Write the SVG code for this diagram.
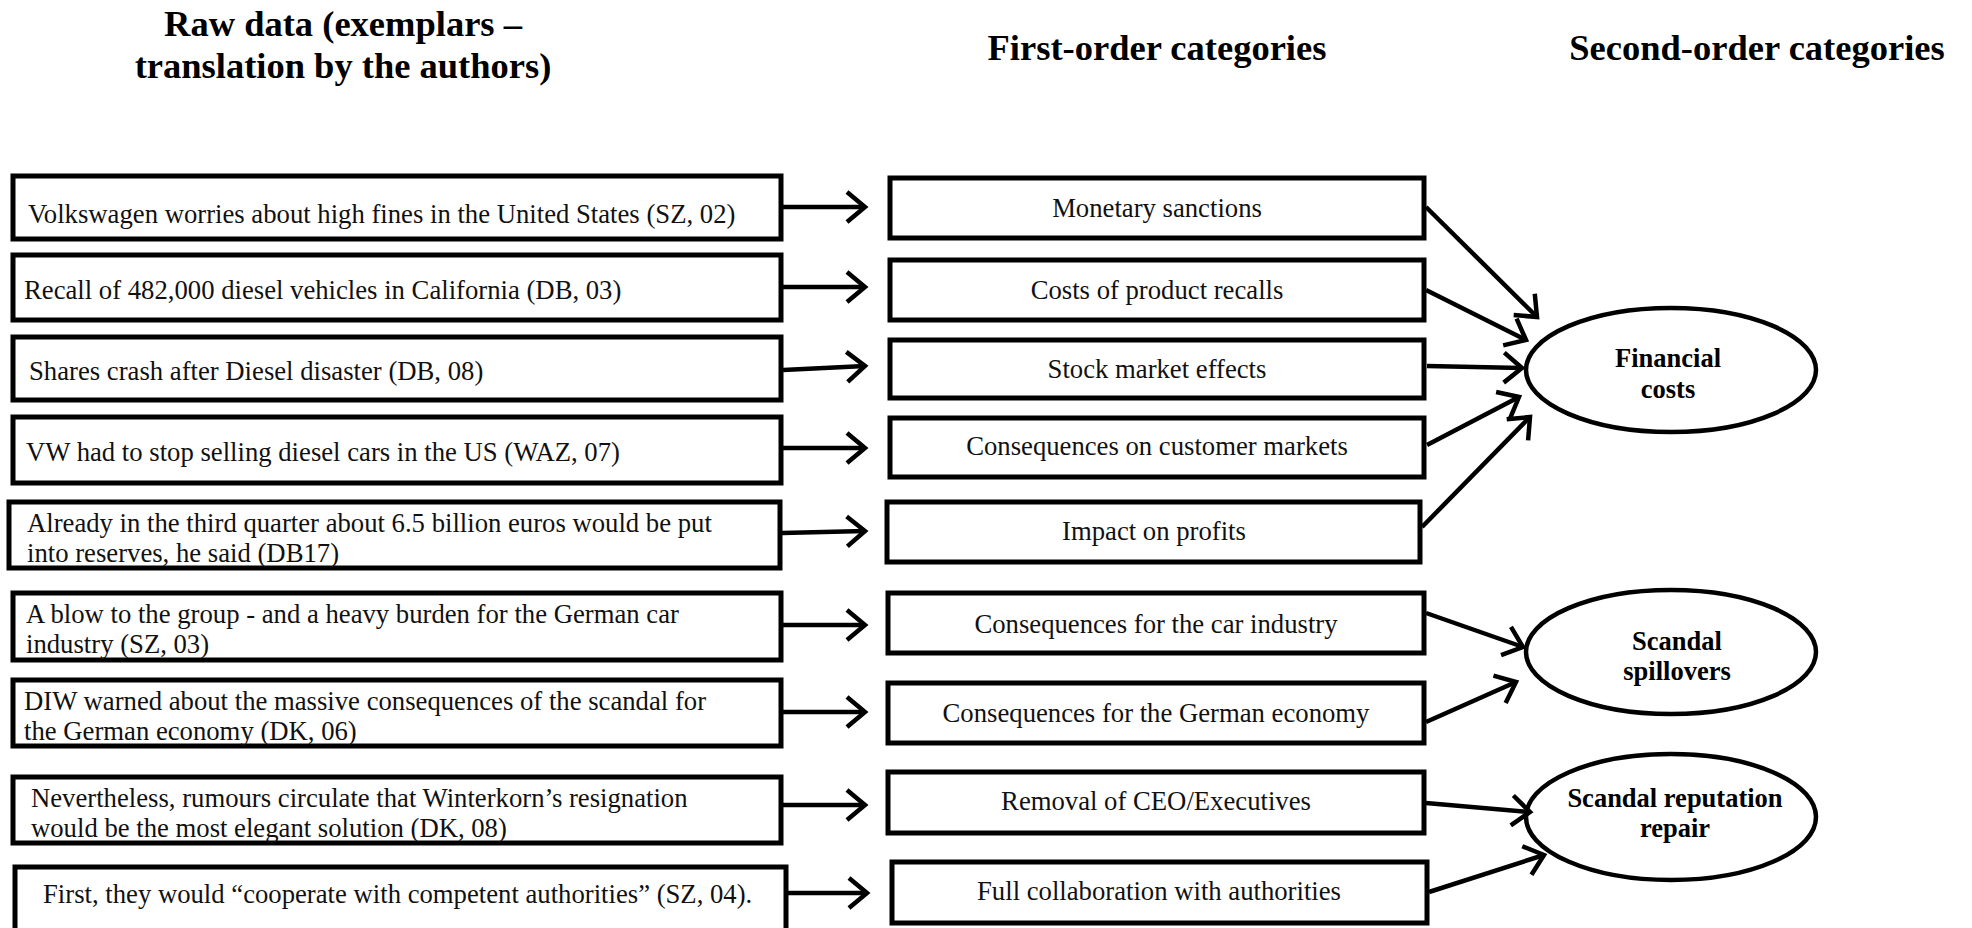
<svg xmlns="http://www.w3.org/2000/svg" width="1972" height="928" viewBox="0 0 1972 928">
<defs>
<style>
.title{font-family:"Liberation Serif","Times New Roman",serif;font-weight:bold;font-size:36.5px;fill:#000;text-anchor:middle}
.box{fill:#fff;stroke:#000;stroke-width:5}
.raw{font-family:"Liberation Serif","Times New Roman",serif;font-size:26.7px;fill:#111}
.cat{font-family:"Liberation Serif","Times New Roman",serif;font-size:26.7px;fill:#111;text-anchor:middle}
.ell{fill:#fff;stroke:#000;stroke-width:4.5}
.ellt{font-family:"Liberation Serif","Times New Roman",serif;font-weight:bold;font-size:26.5px;fill:#000;text-anchor:middle}
.conn{stroke:#000;stroke-width:4.5;fill:none;marker-end:url(#ah)}
</style>
<marker id="ah" markerUnits="userSpaceOnUse" viewBox="-24 -20 28 40" markerWidth="28" markerHeight="40" refX="0" refY="0" orient="auto">
<path d="M -18 -15 L 0 0 L -18 15" fill="none" stroke="#000" stroke-width="4.5"/>
</marker>
</defs>
<rect width="1972" height="928" fill="#fff"/>
<g id="titles">
<text class="title" x="343" y="36">Raw data (exemplars –</text>
<text class="title" x="343" y="78">translation by the authors)</text>
<text class="title" x="1157" y="60">First-order categories</text>
<text class="title" x="1757" y="60">Second-order categories</text>
</g>
<g id="raw1"><rect class="box" x="13" y="176" width="768" height="63"/><text class="raw" x="28" y="223">Volkswagen worries about high fines in the United States (SZ, 02)</text></g>
<g id="raw2"><rect class="box" x="13" y="255" width="768" height="65"/><text class="raw" x="24" y="299">Recall of 482,000 diesel vehicles in California (DB, 03)</text></g>
<g id="raw3"><rect class="box" x="13" y="337" width="768" height="63"/><text class="raw" x="29" y="380">Shares crash after Diesel disaster (DB, 08)</text></g>
<g id="raw4"><rect class="box" x="13" y="417" width="768" height="66"/><text class="raw" x="26" y="461">VW had to stop selling diesel cars in the US (WAZ, 07)</text></g>
<g id="raw5"><rect class="box" x="9" y="502" width="771" height="66"/><text class="raw" x="27" y="532">Already in the third quarter about 6.5 billion euros would be put</text><text class="raw" x="27" y="562">into reserves, he said (DB17)</text></g>
<g id="raw6"><rect class="box" x="13" y="593" width="768" height="67"/><text class="raw" x="26" y="623">A blow to the group - and a heavy burden for the German car</text><text class="raw" x="26" y="653">industry (SZ, 03)</text></g>
<g id="raw7"><rect class="box" x="13" y="680" width="768" height="66"/><text class="raw" x="24" y="710">DIW warned  about the massive consequences of the scandal for</text><text class="raw" x="24" y="740">the German economy (DK, 06)</text></g>
<g id="raw8"><rect class="box" x="13" y="777" width="768" height="66"/><text class="raw" x="31" y="807">Nevertheless, rumours circulate that Winterkorn’s resignation</text><text class="raw" x="31" y="837">would be the most elegant solution (DK, 08)</text></g>
<g id="raw9"><rect class="box" x="15" y="867" width="771" height="70"/><text class="raw" x="43" y="903">First, they would “cooperate with competent authorities” (SZ, 04).</text></g>
<g id="cat1"><rect class="box" x="890" y="178" width="534" height="60"/><text class="cat" x="1157" y="217">Monetary sanctions</text></g>
<g id="cat2"><rect class="box" x="890" y="260" width="534" height="60"/><text class="cat" x="1157" y="299">Costs of product recalls</text></g>
<g id="cat3"><rect class="box" x="890" y="340" width="534" height="58"/><text class="cat" x="1157" y="378">Stock market effects</text></g>
<g id="cat4"><rect class="box" x="890" y="418" width="534" height="59"/><text class="cat" x="1157" y="455">Consequences on customer markets</text></g>
<g id="cat5"><rect class="box" x="887" y="502" width="533" height="60"/><text class="cat" x="1154" y="540">Impact on profits</text></g>
<g id="cat6"><rect class="box" x="888" y="593" width="536" height="60"/><text class="cat" x="1156" y="633">Consequences for the car industry</text></g>
<g id="cat7"><rect class="box" x="888" y="683" width="536" height="60"/><text class="cat" x="1156" y="722">Consequences for the German economy</text></g>
<g id="cat8"><rect class="box" x="888" y="772" width="536" height="61"/><text class="cat" x="1156" y="810">Removal of CEO/Executives</text></g>
<g id="cat9"><rect class="box" x="892" y="862" width="535" height="61"/><text class="cat" x="1159" y="900">Full collaboration with authorities</text></g>
<g id="financial-costs"><ellipse class="ell" cx="1671" cy="370" rx="145" ry="62"/><text class="ellt" x="1668" y="367">Financial</text><text class="ellt" x="1668" y="398">costs</text></g>
<g id="scandal-spillovers"><ellipse class="ell" cx="1671" cy="652" rx="145" ry="62"/><text class="ellt" x="1677" y="650">Scandal</text><text class="ellt" x="1677" y="680">spillovers</text></g>
<g id="scandal-reputation-repair"><ellipse class="ell" cx="1671" cy="817" rx="145" ry="63"/><text class="ellt" x="1675" y="807">Scandal reputation</text><text class="ellt" x="1675" y="837">repair</text></g>
<g id="connectors">
<path class="conn" d="M783 207 L865 207"/>
<path class="conn" d="M783 287 L865 287"/>
<path class="conn" d="M783 370 L865 366"/>
<path class="conn" d="M783 448 L865 448"/>
<path class="conn" d="M782 533 L865 531"/>
<path class="conn" d="M783 625 L865 625"/>
<path class="conn" d="M783 712 L865 712"/>
<path class="conn" d="M783 805 L865 805"/>
<path class="conn" d="M788 893 L867 893"/>
<path class="conn" d="M1426 207 L1537 317"/>
<path class="conn" d="M1426 290 L1526 340"/>
<path class="conn" d="M1427 366 L1522 368"/>
<path class="conn" d="M1427 445 L1519 397"/>
<path class="conn" d="M1422 527 L1530 417"/>
<path class="conn" d="M1426 613 L1523 647"/>
<path class="conn" d="M1426 722 L1516 682"/>
<path class="conn" d="M1426 803 L1530 812"/>
<path class="conn" d="M1429 892 L1544 855"/>
</g>
</svg>
